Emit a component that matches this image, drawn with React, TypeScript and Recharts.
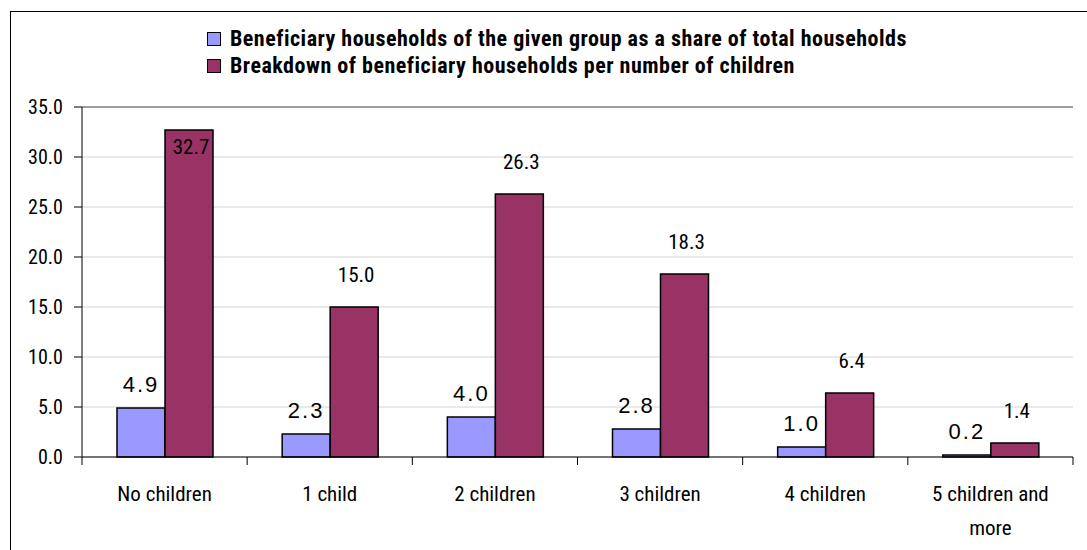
import React from "react";
import { BarChart, Bar, XAxis, YAxis, CartesianGrid, LabelList, ReferenceLine } from "recharts";

const categories = ["No children", "1 child", "2 children", "3 children", "4 children", "5 children and more"];
const shareOfTotal = [4.9, 2.3, 4.0, 2.8, 1.0, 0.2];
const breakdown = [32.7, 15.0, 26.3, 18.3, 6.4, 1.4];
const yTicks = [0, 5, 10, 15, 20, 25, 30, 35];
const seriesNames = [
  "Beneficiary households of the given group as a share of total households",
  "Breakdown of beneficiary households per number of children",
];
const seriesColors = ["#9999ff", "#993366"];

const data = categories.map((name, i) => ({ name, share: shareOfTotal[i], breakdown: breakdown[i] }));

const W = 1076;
const H = 538;
const margin = { top: 95, right: 14, bottom: 33, left: 0 };
const yAxisWidth = 71;
const narrow = "'Roboto Condensed', 'Liberation Sans Narrow', 'Arial Narrow', sans-serif";

function wrap(label: string, max = 14) {
  const words = label.split(" ");
  const lines: string[] = [];
  let cur = "";
  words.forEach((w) => {
    const next = cur ? cur + " " + w : w;
    if (next.length > max && cur) {
      lines.push(cur);
      cur = w;
    } else cur = next;
  });
  if (cur) lines.push(cur);
  return lines;
}

function CategoryTick(props: any) {
  const { x, y, payload, index } = props;
  const band = (W - yAxisWidth - margin.right) / categories.length;
  const lines = wrap(payload.value);
  return (
    <g>
      <line x1={x - band / 2} y1={y} x2={x - band / 2} y2={y + 8} stroke="#000" />
      {index === categories.length - 1 && (
        <line x1={x + band / 2} y1={y} x2={x + band / 2} y2={y + 8} stroke="#000" />
      )}
      <text x={x} y={y + 44} textAnchor="middle" fontFamily={narrow} fontSize={21} fill="#000">
        {lines.map((l, i) => (
          <tspan key={i} x={x} dy={i === 0 ? 0 : 34}>
            {l}
          </tspan>
        ))}
      </text>
    </g>
  );
}

function ShareLabel(props: any) {
  const { x, y, width, value } = props;
  return (
    <text x={x + width / 2} y={y - 16} textAnchor="middle" fontFamily="'Liberation Sans', Arial, sans-serif" fontSize={22} letterSpacing={2} fill="#000">
      {value.toFixed(1)}
    </text>
  );
}

function BreakdownLabel(props: any) {
  const { x, y, width, value } = props;
  const ty = Math.max(y - 25, margin.top + 47);
  return (
    <text x={x + width / 2 + 2} y={ty} textAnchor="middle" fontFamily={narrow} fontSize={21} fill="#000">
      {value.toFixed(1)}
    </text>
  );
}

export default function App() {
  return (
    <div style={{ position: "fixed", left: 0, top: 0, width: 1087, height: 550, overflow: "hidden", background: "#fff" }}>
      <div style={{ position: "absolute", left: 10, top: 11, width: 1100, height: 560, border: "1px solid #000" }}>
        <div style={{ position: "absolute", left: 196, top: 13, fontFamily: narrow, fontSize: 22, fontWeight: "bold", letterSpacing: 0.5, color: "#000", whiteSpace: "nowrap" }}>
          {seriesNames.map((n, i) => (
            <div key={n} style={{ display: "flex", alignItems: "center", height: 27 }}>
              <span style={{ display: "inline-block", width: 12, height: 12, background: seriesColors[i], border: "1px solid #000", marginRight: 9 }} />
              <span>{n}</span>
            </div>
          ))}
        </div>
        <div style={{ position: "absolute", left: 0, top: 0 }}>
          <BarChart width={W} height={H} data={data} margin={margin} barGap={0} barSize={48}>
            <CartesianGrid vertical={false} stroke="#d4d4d4" />
            <XAxis
              dataKey="name"
              tick={<CategoryTick />}
              tickLine={false}
              tickSize={0}
              tickMargin={0}
              axisLine={{ stroke: "#000" }}
              height={60}
              interval={0}
            />
            <YAxis
              domain={[0, 35]}
              ticks={yTicks}
              width={yAxisWidth}
              tickFormatter={(v: number) => v.toFixed(1)}
              tick={{ fontFamily: narrow, fontSize: 20, fill: "#000" }}
              tickSize={8}
              tickMargin={11}
              tickLine={{ stroke: "#000" }}
              axisLine={{ stroke: "#000" }}
            />
            <YAxis yAxisId="right" orientation="right" width={0} tick={false} tickLine={false} axisLine={{ stroke: "#555" }} domain={[0, 35]} />
            <ReferenceLine y={35} stroke="#555" />
            <Bar dataKey="share" fill={seriesColors[0]} stroke="#000" strokeWidth={1.5} isAnimationActive={false}>
              <LabelList dataKey="share" content={<ShareLabel />} />
            </Bar>
            <Bar dataKey="breakdown" fill={seriesColors[1]} stroke="#000" strokeWidth={1.5} isAnimationActive={false}>
              <LabelList dataKey="breakdown" content={<BreakdownLabel />} />
            </Bar>
          </BarChart>
        </div>
      </div>
    </div>
  );
}
